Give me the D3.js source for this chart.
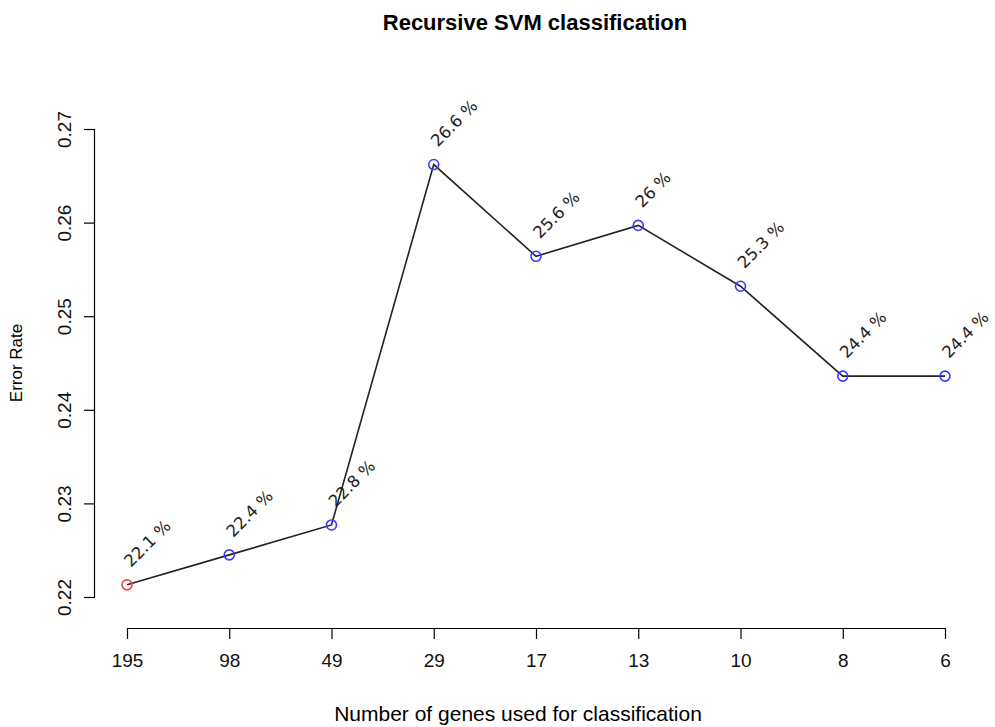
<!DOCTYPE html>
<html>
<head>
<meta charset="utf-8">
<style>
    body { margin: 0; background: #fff; }
    svg { font-family: 'Liberation Sans', Arial, sans-serif; }
    .axis .domain, .axis .tick line { stroke: #000; stroke-width: 1.2px; }
    .axis .tick text { font-size: 19px; fill: #111; }
    .pt-label { font-family: 'DejaVu Sans', Verdana, sans-serif; font-size: 16.5px; fill: #222; }
</style>
</head>
<body>
<svg width="995" height="727"></svg>
<script src="https://d3js.org/d3.v7.min.js"></script>
<script>
    // genes kept at each step and the error rate
    let genes = ["195", "98", "49", "29", "17", "13", "10", "8", "6"];
    let errorRate = [0.2213, 0.2245, 0.2277, 0.2662, 0.2564, 0.2597, 0.2532, 0.2436, 0.2436];
    let pctLabels = ["22.1 %", "22.4 %", "22.8 %", "26.6 %", "25.6 %", "26 %", "25.3 %", "24.4 %", "24.4 %"];
    let yTicks = [0.22, 0.23, 0.24, 0.25, 0.26, 0.27];

    let data = genes.map(function (g, i) {
        return { gene: g, value: errorRate[i], label: pctLabels[i] };
    });

    let svg = d3.select("svg");

    let x = d3.scalePoint()
        .domain(genes)
        .range([127, 945]);

    let y = d3.scaleLinear()
        .domain([0.22, 0.27])
        .range([597, 129]);

    // title
    svg.append("text")
        .attr("x", 535)
        .attr("y", 30)
        .attr("text-anchor", "middle")
        .style("font-size", "22px")
        .style("font-weight", "bold")
        .text("Recursive SVM classification");

    // x axis, detached below the plot like base R
    let xAxis = svg.append("g")
        .attr("class", "axis")
        .attr("transform", "translate(0,628)")
        .call(d3.axisBottom(x).tickSize(11).tickPadding(15).tickSizeOuter(0));
    xAxis.select(".domain").attr("d", "M" + x("195") + ",0.5H" + x("6"));

    // y axis with rotated tick labels
    let yAxis = svg.append("g")
        .attr("class", "axis")
        .attr("transform", "translate(95,0)")
        .call(d3.axisLeft(y).tickValues(yTicks).tickFormat(d3.format(".2f")).tickSize(11).tickSizeOuter(0));
    yAxis.select(".domain").attr("d", "M-0.5," + y(0.22) + "V" + y(0.27));
    yAxis.selectAll(".tick text")
        .attr("x", null)
        .attr("dy", null)
        .attr("text-anchor", "middle")
        .attr("transform", "translate(-24,0) rotate(-90)");

    // axis titles
    svg.append("text")
        .attr("x", 518)
        .attr("y", 721)
        .attr("text-anchor", "middle")
        .style("font-size", "21px")
        .text("Number of genes used for classification");

    svg.append("text")
        .attr("transform", "translate(22,363) rotate(-90)")
        .attr("text-anchor", "middle")
        .style("font-size", "17px")
        .text("Error Rate");

    // connecting line
    let line = d3.line()
        .x(function (d) { return x(d.gene) })
        .y(function (d) { return y(d.value) });

    svg.append("path")
        .attr("d", line(data))
        .style("fill", "none")
        .style("stroke", "#222")
        .style("stroke-width", "1.6");

    // point markers, the lowest error in red
    svg.selectAll(".pt")
        .data(data)
        .join("circle")
        .attr("class", "pt")
        .attr("cx", function (d) { return x(d.gene) })
        .attr("cy", function (d) { return y(d.value) })
        .attr("r", 5)
        .style("fill", "none")
        .style("stroke-width", "1.6")
        .style("stroke", function (d, i) { return i === 0 ? "#ee4444" : "#3a3aff" });

    // rotated percentage labels
    svg.selectAll(".pt-label")
        .data(data)
        .join("text")
        .attr("class", "pt-label")
        .attr("transform", function (d) {
            return "translate(" + (x(d.gene) + 4) + "," + (y(d.value) - 17) + ") rotate(-45)";
        })
        .text(function (d) { return d.label });
</script>
</body>
</html>
